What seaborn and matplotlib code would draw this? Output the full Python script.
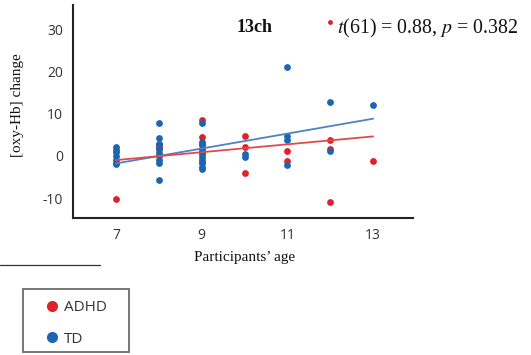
import numpy as np
import pandas as pd
import seaborn as sns
import matplotlib
matplotlib.use("Agg")
import matplotlib.pyplot as plt
from matplotlib.lines import Line2D
from matplotlib.patches import Rectangle

# ---- data ----
adhd_age = [7, 8, 8, 8, 8, 9, 9, 9, 9, 9, 10, 10, 10, 11, 11, 12, 12, 12, 13]
adhd_val = [-10.2, 2.9, 2.5, 2.1, 1.7, 8.4, 4.5, 2.9, 1.0, -1.4,
            4.8, 2.1, -4.0, 1.2, -1.2, 3.8, 1.6, -11.0, -1.2]

td_age = [7, 7, 7, 7, 7, 7, 7,
          8, 8, 8, 8, 8, 8, 8, 8, 8,
          9, 9, 9, 9, 9, 9, 9, 9, 9, 9, 9,
          10, 10, 11, 11, 11, 11, 12, 12, 13]
td_val = [2.2, 1.4, 0.8, 0.0, -0.9, -1.6, -2.0,
          7.7, 4.3, 2.7, 1.7, 0.7, -0.1, -0.9, -1.8, -5.8,
          7.7, 3.3, 2.5, 1.7, 0.9, 0.4, -0.2, -0.9, -1.8, -2.6, -3.2,
          0.4, -0.2, 21.0, 4.8, 3.7, -2.2, 12.7, 1.1, 12.1]

fit_age = [7, 13]
fit_adhd = [-1.0, 4.6]
fit_td = [-1.8, 8.8]

xticks = [7, 9, 11, 13]
yticks = [-10, 0, 10, 20, 30]
ytick_labels = ["-10", "0", "10", "20", "30"]

RED = "#e0202a"
BLUE = "#1c65b0"
RED_LINE = "#e24a4a"
BLUE_LINE = "#4f82c2"

sns.set_style("white")
plt.rcParams["mathtext.fontset"] = "stix"

W, H = 531, 355
fig = plt.figure(figsize=(5.31, 3.55), dpi=100)
ax = fig.add_axes([73 / W, 1 - 218 / H, (413 - 73) / W, (218 - 5) / H])

df_a = pd.DataFrame({"age": adhd_age, "val": adhd_val})
df_t = pd.DataFrame({"age": td_age, "val": td_val})
df_fa = pd.DataFrame({"age": fit_age, "val": fit_adhd})
df_ft = pd.DataFrame({"age": fit_age, "val": fit_td})

sns.scatterplot(data=df_a, x="age", y="val", color=RED, s=24, linewidth=0, ax=ax, zorder=3)
sns.scatterplot(data=df_t, x="age", y="val", color=BLUE, s=24, linewidth=0, ax=ax, zorder=4)
sns.lineplot(data=df_ft, x="age", y="val", color=BLUE_LINE, linewidth=1.3, ax=ax, zorder=5)
sns.lineplot(data=df_fa, x="age", y="val", color=RED_LINE, linewidth=1.3, ax=ax, zorder=5)

ax.set_xlim(6.0, 13.93)
ax.set_ylim(-14.7, 35.7)
ax.set_xticks(xticks)
ax.set_xticklabels([str(t) for t in xticks])
ax.set_yticks(yticks)
ax.set_yticklabels(ytick_labels)
ax.tick_params(axis="both", length=0, pad=7, labelsize=10, labelcolor="#333333")
for lab in ax.get_xticklabels() + ax.get_yticklabels():
    lab.set_fontfamily("Open Sans")

for side in ["top", "right"]:
    ax.spines[side].set_visible(False)
for side in ["left", "bottom"]:
    ax.spines[side].set_color("#222222")
    ax.spines[side].set_linewidth(1.5)

ax.set_xlabel("")
ax.set_ylabel("")

fig.text(245 / W, 1 - 258 / H, "Participants\u2019 age", family="Liberation Serif",
         fontsize=11, ha="center", va="center", color="#111111")
fig.text(18 / W, 1 - 105 / H, "[oxy-Hb] change", family="Liberation Serif",
         fontsize=11, ha="center", va="center", rotation=90, color="#111111")

fig.text(255 / W, 1 - 28 / H, "13ch", family="Liberation Serif", fontweight="bold",
         fontsize=13, ha="center", va="center", color="#111111")
fig.add_artist(Line2D([330 / W], [1 - 22 / H], marker="o", markersize=3.5,
                      linestyle="", color=RED, markeredgewidth=0,
                      transform=fig.transFigure))
fig.text(337 / W, 1 - 28 / H, r"$\it{t}$(61) = 0.88, $\it{p}$ = 0.382",
         family="Liberation Serif", fontsize=14.3, ha="left", va="center", color="#111111")

# stray horizontal rule
fig.add_artist(Line2D([0, 100 / W], [1 - 265 / H, 1 - 265 / H],
                      color="#333333", linewidth=0.9, transform=fig.transFigure))

# legend
handles = [Line2D([], [], marker="o", linestyle="", color=RED, markersize=7),
           Line2D([], [], marker="o", linestyle="", color=BLUE, markersize=7)]
leg = fig.legend(handles, ["ADHD", "TD"], loc="upper left",
                 bbox_to_anchor=(44.5 / W, 1 - 300 / H), borderaxespad=0,
                 frameon=False, handletextpad=0.3, labelspacing=1.1,
                 borderpad=0, prop={"family": "Open Sans", "size": 11},
                 handlelength=1.0)
for t in leg.get_texts():
    t.set_color("#333333")
fig.add_artist(Rectangle((23 / W, 1 - 352 / H), (129 - 23) / W, (352 - 289) / H,
                         transform=fig.transFigure, fill=False,
                         edgecolor="#777777", linewidth=1.4))

fig.savefig("out.png", dpi=100)
